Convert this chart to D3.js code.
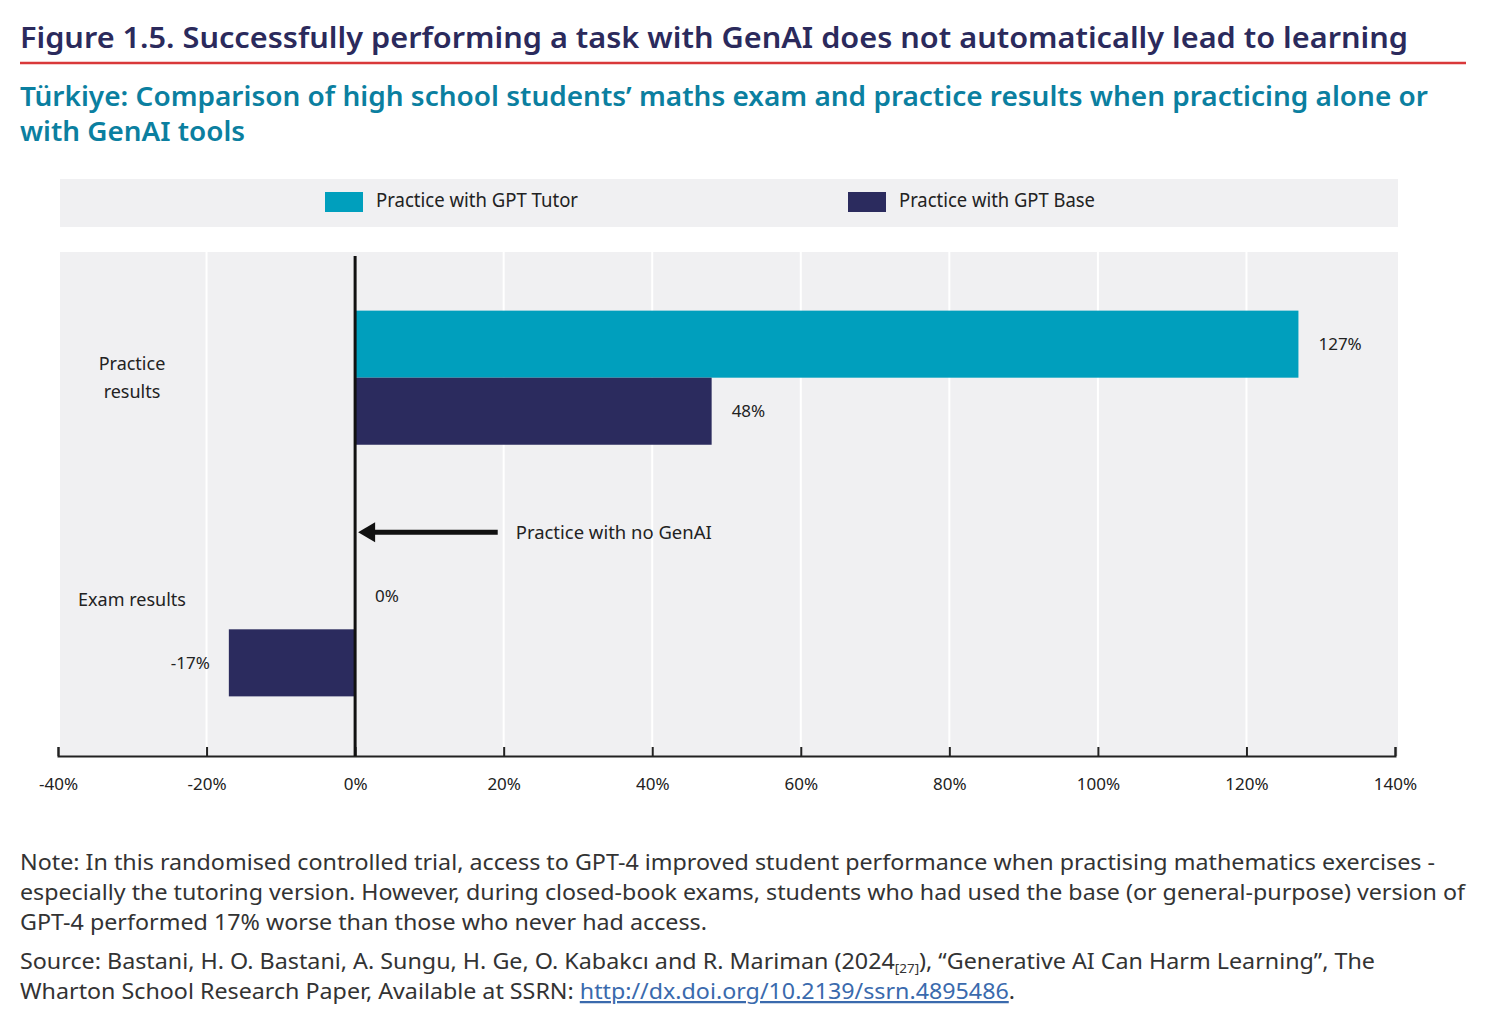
<!DOCTYPE html>
<html>
<head>
<meta charset="utf-8">
<script src="https://cdn.jsdelivr.net/npm/d3@7"></script>
<style>
  body { margin: 0; background: #fff; }
  svg text { font-family: "Noto Sans", sans-serif; }
</style>
</head>
<body>
<script>
// chart data
var categories = ["Practice results", "Exam results"];
var categoryLines = [["Practice", "results"], ["Exam results"]];
var seriesNames = ["Practice with GPT Tutor", "Practice with GPT Base"];
var tutorValues = [127, 0];
var baseValues = [48, -17];
var xTicks = [-40, -20, 0, 20, 40, 60, 80, 100, 120, 140];
var arrowLabel = "Practice with no GenAI";
var arrowFrom = 19.2; // arrow tail in % units
var arrowTo = 0;

var titleText = "Figure 1.5. Successfully performing a task with GenAI does not automatically lead to learning";
var subtitleLines = ["Türkiye: Comparison of high school students’ maths exam and practice results when practicing alone or",
                     "with GenAI tools"];
var noteLines = ["Note: In this randomised controlled trial, access to GPT-4 improved student performance when practising mathematics exercises -",
                 "especially the tutoring version. However, during closed-book exams, students who had used the base (or general-purpose) version of",
                 "GPT-4 performed 17% worse than those who never had access."];

var colors = ["#009fbd", "#2b2b5e"];

var W = 1494, H = 1020;
var svg = d3.select("body").append("svg").attr("width", W).attr("height", H);

// helper: squeeze text to a measured width (the source font is semi-condensed)
function fit(sel, width) {
    sel.each(function() {
        var len = this.getComputedTextLength();
        if (len > 0) {
            d3.select(this).attr("textLength", width).attr("lengthAdjust", "spacingAndGlyphs");
        }
    });
    return sel;
}

// title
svg.append("text").attr("x", 20).attr("y", 48)
    .attr("font-size", 29).attr("font-weight", 600).attr("fill", "#2b2a5c")
    .text(titleText).call(fit, 1388);

svg.append("line").attr("x1", 20).attr("x2", 1466).attr("y1", 63).attr("y2", 63)
    .attr("stroke", "#d9383a").attr("stroke-width", 2.5);

// subtitle
var subW = [1408, 225];
subtitleLines.forEach(function(s, i) {
    svg.append("text").attr("x", 20).attr("y", 106 + i * 35)
        .attr("font-size", 27).attr("font-weight", 600).attr("fill", "#0b7fa0")
        .text(s).call(fit, subW[i]);
});

// legend
var legend = svg.append("g");
legend.append("rect").attr("x", 60).attr("y", 179).attr("width", 1338).attr("height", 48).attr("fill", "#f0f0f2");
var legX = [325, 848];
var legW = [202, 196];
seriesNames.forEach(function(name, i) {
    legend.append("rect").attr("x", legX[i]).attr("y", 192).attr("width", 38).attr("height", 20).attr("fill", colors[i]);
    legend.append("text").attr("x", legX[i] + 51).attr("y", 207)
        .attr("font-size", 19).attr("fill", "#222").text(name).call(fit, legW[i]);
});

// scales
var plot = {left: 60, right: 1398, top: 252, bottom: 756};

var xScale = d3.scaleLinear()
    .domain([-40, 140])
    .range([58, 1395]);

var yScale = d3.scaleBand()
    .domain(categories)
    .range([plot.top, plot.bottom - 1])
    .paddingInner(0.467)
    .paddingOuter(0.233);

var ySub = d3.scaleBand()
    .domain(seriesNames)
    .range([0, yScale.bandwidth()]);

// plot background
svg.append("rect").attr("x", plot.left).attr("y", plot.top)
    .attr("width", plot.right - plot.left).attr("height", plot.bottom - plot.top)
    .attr("fill", "#f0f0f2");

// gridlines (none at the outer edges or at zero)
svg.append("g").selectAll("line")
    .data(xTicks.filter(function(d) { return d !== 0 && d !== -40 && d !== 140; }))
    .enter().append("line")
    .attr("x1", function(d) { return xScale(d); })
    .attr("x2", function(d) { return xScale(d); })
    .attr("y1", plot.top).attr("y2", plot.bottom)
    .attr("stroke", "#fff").attr("stroke-width", 2);

// bars
var rows = [];
categories.forEach(function(c, i) {
    rows.push({cat: c, series: seriesNames[0], value: tutorValues[i]});
    rows.push({cat: c, series: seriesNames[1], value: baseValues[i]});
});

svg.append("g").selectAll("rect")
    .data(rows)
    .enter().append("rect")
    .attr("x", function(d) { return xScale(Math.min(0, d.value)); })
    .attr("y", function(d) { return yScale(d.cat) + ySub(d.series); })
    .attr("width", function(d) { return Math.abs(xScale(d.value) - xScale(0)); })
    .attr("height", ySub.bandwidth())
    .attr("fill", function(d) { return colors[seriesNames.indexOf(d.series)]; });

// value labels
svg.append("g").selectAll("text")
    .data(rows)
    .enter().append("text")
    .attr("x", function(d) { return d.value < 0 ? xScale(d.value) - 19 : xScale(d.value) + 20; })
    .attr("y", function(d) { return yScale(d.cat) + ySub(d.series) + ySub.bandwidth() / 2; })
    .attr("dy", "0.35em")
    .attr("text-anchor", function(d) { return d.value < 0 ? "end" : "start"; })
    .attr("font-size", 17).attr("fill", "#222")
    .text(function(d) { return d.value + "%"; });

// category labels
categories.forEach(function(c, i) {
    var lines = categoryLines[i];
    var cy = lines.length > 1
        ? yScale(c) + yScale.bandwidth() / 2
        : yScale(c) + ySub(seriesNames[0]) + ySub.bandwidth() / 2 + 4;
    lines.forEach(function(l, j) {
        svg.append("text").attr("x", 132)
            .attr("y", cy + (j - (lines.length - 1) / 2) * 28)
            .attr("dy", "0.35em").attr("text-anchor", "middle")
            .attr("font-size", 18).attr("fill", "#222").text(l);
    });
});

// x axis
var xAxis = d3.axisBottom(xScale)
    .tickValues(xTicks)
    .tickSize(-9)
    .tickPadding(22)
    .tickFormat(function(d) { return d + "%"; });

var axisG = svg.append("g")
    .attr("transform", "translate(0," + plot.bottom + ")")
    .call(xAxis);
axisG.select(".domain").attr("stroke", "#222").attr("stroke-width", 2);
axisG.selectAll(".tick line").attr("stroke", "#222").attr("stroke-width", 2);
axisG.selectAll(".tick text").attr("font-family", "Noto Sans").attr("font-size", 17).attr("fill", "#222");

// zero line
svg.append("line")
    .attr("x1", xScale(0)).attr("x2", xScale(0))
    .attr("y1", plot.top + 4).attr("y2", plot.bottom)
    .attr("stroke", "#111").attr("stroke-width", 3);

// annotation arrow
var ay = yScale(categories[1]) - 30;
var tip = xScale(arrowTo) + 3;
svg.append("line")
    .attr("x1", xScale(arrowFrom)).attr("x2", tip + 14)
    .attr("y1", ay).attr("y2", ay)
    .attr("stroke", "#111").attr("stroke-width", 5);
svg.append("path")
    .attr("d", "M" + tip + "," + ay + "L" + (tip + 17) + "," + (ay - 10) + "L" + (tip + 17) + "," + (ay + 10) + "Z")
    .attr("fill", "#111");
svg.append("text").attr("x", xScale(arrowFrom) + 18).attr("y", ay)
    .attr("dy", "0.35em").attr("font-size", 18).attr("fill", "#222")
    .text(arrowLabel).call(fit, 196);

// notes
var noteW = [1415, 1445, 687];
noteLines.forEach(function(s, i) {
    svg.append("text").attr("x", 20).attr("y", 870 + i * 30)
        .attr("font-size", 22.5).attr("fill", "#333")
        .text(s).call(fit, noteW[i]);
});

// source
var src1 = svg.append("text").attr("x", 20).attr("y", 969)
    .attr("font-size", 22.5).attr("fill", "#333");
src1.append("tspan").text("Source: Bastani, H. O. Bastani, A. Sungu, H. Ge, O. Kabakcı and R. Mariman (2024");
src1.append("tspan").attr("font-size", 13).attr("dy", 4).text("[27]");
src1.append("tspan").attr("dy", -4).text("), “Generative AI Can Harm Learning”, The");
src1.call(fit, 1355);

var src2 = svg.append("text").attr("x", 20).attr("y", 999)
    .attr("font-size", 22.5).attr("fill", "#333");
src2.append("tspan").text("Wharton School Research Paper, Available at SSRN: ");
src2.append("tspan").attr("fill", "#3a6aad").attr("text-decoration", "underline").text("http://dx.doi.org/10.2139/ssrn.4895486");
src2.append("tspan").text(".");
src2.call(fit, 995);
</script>
</body>
</html>
